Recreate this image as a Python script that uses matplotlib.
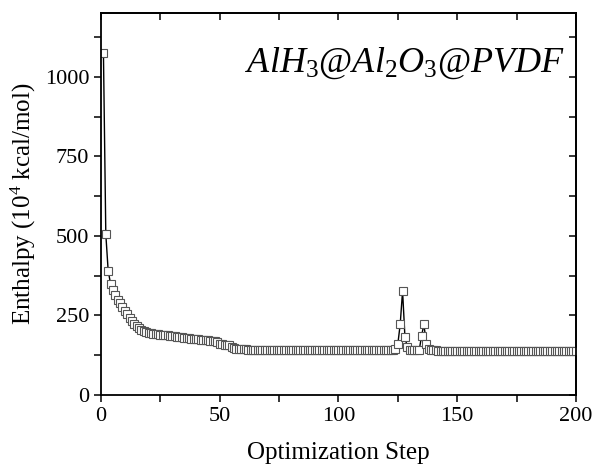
import matplotlib
matplotlib.use('Agg')
import matplotlib.pyplot as plt
from matplotlib.ticker import MultipleLocator

plt.rcParams['font.family'] = ['Liberation Serif', 'DejaVu Serif']
plt.rcParams['mathtext.fontset'] = 'custom'
plt.rcParams['mathtext.rm'] = 'Liberation Serif'
plt.rcParams['mathtext.it'] = 'Liberation Serif:italic'

# optimization steps and enthalpy (10^4 kcal/mol)
steps = list(range(1, 201))
enthalpy = (
    # 1-20
    [1075, 505, 390, 350, 330, 315, 300, 288, 276, 265,
     254, 243, 233, 224, 216, 210, 205, 201, 198, 196]
    # 21-40
    + [194, 193, 192, 191, 190, 189, 188, 187, 186, 185,
       184, 183, 182, 181, 180, 179, 178, 177, 176, 176]
    # 41-60
    + [175, 174, 173, 172, 172, 171, 170, 170, 168, 160,
       159, 158, 157, 156, 150, 148, 146, 145, 144, 143]
    # 61-80
    + [143, 142, 142, 142, 142, 142, 142, 141, 141, 141,
       141, 141, 141, 141, 141, 141, 141, 141, 141, 141]
    # 81-100
    + [141, 141, 141, 141, 141, 141, 141, 141, 141, 141,
       140, 140, 140, 140, 140, 140, 140, 140, 140, 140]
    # 101-120
    + [140, 140, 140, 140, 140, 140, 140, 140, 140, 140,
       140, 140, 140, 140, 140, 140, 140, 140, 140, 140]
    # 121-140
    + [140, 140, 141, 145, 160, 222, 327, 182, 150, 142,
       140, 140, 140, 140, 186, 222, 160, 145, 141, 140]
    # 141-160
    + [140, 139, 139, 139, 139, 139, 139, 139, 139, 139,
       139, 139, 139, 139, 139, 139, 139, 139, 139, 139]
    # 161-180
    + [138, 138, 138, 138, 138, 138, 138, 138, 138, 138,
       138, 138, 138, 138, 138, 138, 138, 138, 138, 138]
    # 181-200
    + [138, 138, 138, 138, 138, 138, 138, 138, 138, 138,
       137, 137, 137, 137, 137, 137, 137, 137, 137, 137]
)

fig = plt.figure(figsize=(5.98, 4.70), dpi=100)
ax = fig.add_axes([0.169, 0.1596, 0.794, 0.8124])

ax.plot(steps, enthalpy, color='black', lw=1.0,
        marker='s', ms=5.4, mfc='white', mec='#555555', mew=0.8)

ax.set_xlim(0, 200)
ax.set_ylim(0, 1200)
ax.xaxis.set_major_locator(MultipleLocator(50))
ax.xaxis.set_minor_locator(MultipleLocator(25))
ax.yaxis.set_major_locator(MultipleLocator(250))
ax.yaxis.set_minor_locator(MultipleLocator(125))

for s in ax.spines.values():
    s.set_linewidth(1.3)

ax.tick_params(which='both', direction='out', labelsize=16, width=1.1,
               length=5, bottom=True, left=True, top=False, right=False)

# mirrored inward ticks on top and right
ax_top = ax.secondary_xaxis('top')
ax_top.xaxis.set_major_locator(MultipleLocator(50))
ax_top.xaxis.set_minor_locator(MultipleLocator(25))
ax_top.tick_params(which='both', direction='in', length=5, width=1.1,
                   labeltop=False)
ax_right = ax.secondary_yaxis('right')
ax_right.yaxis.set_major_locator(MultipleLocator(250))
ax_right.yaxis.set_minor_locator(MultipleLocator(125))
ax_right.tick_params(which='both', direction='in', length=5, width=1.1,
                     labelright=False)
ax_top.spines['top'].set_linewidth(1.3)
ax_right.spines['right'].set_linewidth(1.3)

ax.set_xlabel('Optimization Step', fontsize=18, labelpad=12)
ax.set_ylabel('Enthalpy (10$^4$ kcal/mol)', fontsize=18, labelpad=5)

ax.text(0.303, 0.846, r'$\mathit{AlH_3@Al_2O_3@PVDF}$', transform=ax.transAxes,
        fontsize=26, va='baseline', ha='left')

fig.savefig('out.png', dpi=100)
